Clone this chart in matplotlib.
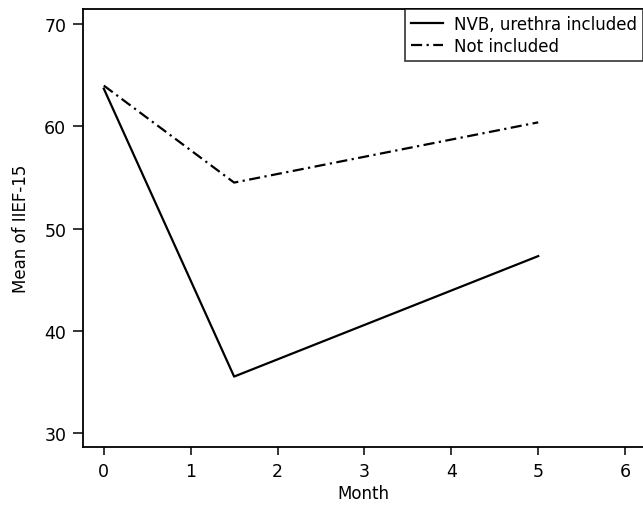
import matplotlib.pyplot as plt

# Data
months = [0, 1.5, 5]
nvb_included = [63.7, 35.5, 47.3]
not_included = [64.0, 54.5, 60.4]
series_labels = ["NVB, urethra included", "Not included"]
x_ticks = [0, 1, 2, 3, 4, 5, 6]
y_ticks = [30, 40, 50, 60, 70]

plt.rcParams.update({
    "font.family": ["DejaVu Sans"],
    "font.size": 12,
})

fig = plt.figure(figsize=(6.43, 5.06), dpi=100)
ax = fig.add_axes([0.129, 0.1146, 0.871, 0.8656])

ax.plot(months, nvb_included, color="black", linewidth=1.6,
        label=series_labels[0])
ax.plot(months, not_included, color="black", linewidth=1.6,
        linestyle=(0, (5, 2, 1, 2)), label=series_labels[1])

ax.set_xlim(-0.24, 6.206)
ax.set_ylim(28.6, 71.5)
ax.set_xticks(x_ticks)
ax.set_yticks(y_ticks)
ax.set_xlabel("Month", fontsize=12, labelpad=3)
ax.set_ylabel("Mean of IIEF-15", fontsize=12, labelpad=10)

ax.spines["right"].set_visible(False)
for side in ("left", "bottom", "top"):
    ax.spines[side].set_linewidth(1.3)
ax.tick_params(axis="y", direction="out", length=7, width=1.1,
               labelsize=12.5, pad=5)
ax.tick_params(axis="x", direction="out", length=6, width=1.1,
               labelsize=12.5, pad=5)

leg = ax.legend(loc="upper left", bbox_to_anchor=(405 / 643, 1 - 10 / 506),
                bbox_transform=fig.transFigure, frameon=True, fancybox=False,
                borderaxespad=0, handlelength=1.9, handletextpad=0.7,
                labelspacing=0.25, borderpad=0.35, fontsize=12)
leg.get_frame().set_edgecolor("black")
leg.get_frame().set_linewidth(1.2)

fig.savefig("out.png", dpi=100)
